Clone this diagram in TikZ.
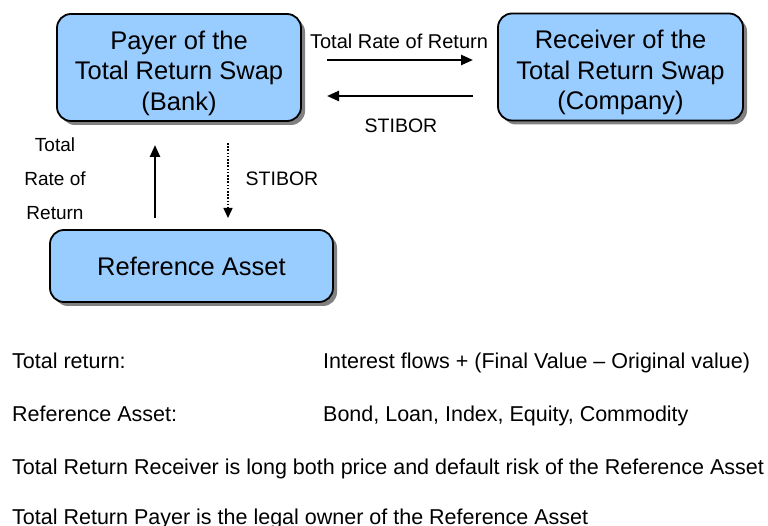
\documentclass[tikz,border=0pt]{standalone}
\usepackage{fontspec}
\setmainfont{Liberation Sans}
\usepackage{xcolor}
\definecolor{box-blue}{RGB}{153,204,255}
\usetikzlibrary{arrows.meta,shadows}

\begin{document}
\begin{tikzpicture}[x=1pt,y=-1pt,>={Triangle[length=12pt,width=10pt]},
	party/.style={draw,line width=1.8pt,rounded corners=14pt,fill=box-blue,
		drop shadow={shadow xshift=4pt,shadow yshift=-4pt,fill=black!55,opacity=.9},
		align=center,font=\fontsize{25.5}{30.5}\selectfont,inner sep=0pt},
	flow/.style={->,line width=2.4pt},
	lbl/.style={font=\fontsize{19.5}{23}\selectfont},
	txt/.style={anchor=base west,inner sep=0pt,font=\fontsize{21.5}{25}\selectfont}]
	\useasboundingbox (0,0) rectangle (768,526);
	
	\node[party,minimum width=244pt,minimum height=107pt,text height=91pt] (payer)
		at (179,67.5) {Payer of the\\Total Return Swap\\(Bank)};
	\node[party,minimum width=245pt,minimum height=107pt,text height=91pt] (receiver)
		at (620.5,67) {Receiver of the\\Total Return Swap\\(Company)};
	\node[party,minimum width=283pt,minimum height=72pt] (asset) at (191.5,266)
		{Reference Asset};
	
	\foreach \x/\y/\z in 
	{327/60/trr-a,473/60/trr-b,473/96/sti-a,327/96/sti-b,
	 155/218/up-a,155/145/up-b,228/143/dn-a,228/218/dn-b}{
		\coordinate (\z) at (\x,\y);
%		\fill[red] (\z) circle (2pt);
	}
	
	\draw[flow] (trr-a) -- (trr-b);
	\draw[flow] (sti-a) -- (sti-b);
	\draw[flow] (up-a) -- (up-b);
	\draw[->,line width=1.4pt,dash pattern=on 1.6pt off 1.6pt,
		>={Triangle[length=10pt,width=9pt]}] (dn-a) -- (dn-b);
	
	\path 
		(399,41)  node[lbl,font=\fontsize{20}{23}\selectfont] (trr-lbl) {Total Rate of Return}
		(401,126) node[lbl] (sti-lbl) {STIBOR}
		(55,179)  node[lbl,align=center,font=\fontsize{19}{34}\selectfont] (up-lbl)
			{Total\\Rate of\\Return}
		(282,179) node[lbl] (dn-lbl) {STIBOR};
	
	\path 
		(12,369)  node[txt] (tr-key) {Total return:}
		(323,369) node[txt] (tr-val) {Interest flows + (Final Value – Original value)}
		(12,421)  node[txt] (ra-key) {Reference Asset:}
		(323,421) node[txt] (ra-val) {Bond, Loan, Index, Equity, Commodity}
		(12,474)  node[txt] (note-a) {Total Return Receiver is long both price and default risk of the Reference Asset}
		(12,524)  node[txt] (note-b) {Total Return Payer is the legal owner of the Reference Asset};
\end{tikzpicture}
\end{document}
